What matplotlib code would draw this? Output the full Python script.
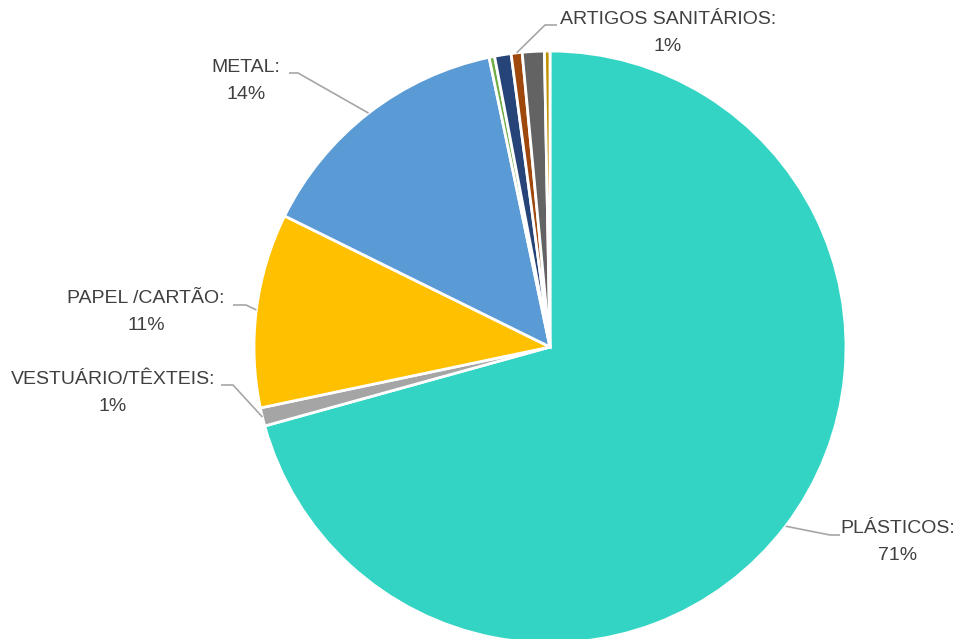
import numpy as np
import matplotlib.pyplot as plt

plt.rcParams['font.family'] = ['Liberation Sans', 'DejaVu Sans']

# composição dos resíduos (%), sentido horário a partir do topo
categorias = ["PLÁSTICOS", "VESTUÁRIO/TÊXTEIS", "PAPEL /CARTÃO", "METAL",
              "OUTRO 1", "OUTRO 2", "ARTIGOS SANITÁRIOS", "OUTRO 3", "OUTRO 4"]
percentagens = [70.7, 1.0, 10.6, 14.4, 0.3, 0.9, 0.6, 1.2, 0.3]
cores = ["#33D4C4", "#A5A5A5", "#FFC000", "#5B9BD5", "#70AD47",
         "#264478", "#9E480E", "#636363", "#BF9000"]

# só estas fatias levam rótulo
rotuladas = ["PLÁSTICOS", "VESTUÁRIO/TÊXTEIS", "PAPEL /CARTÃO", "METAL", "ARTIGOS SANITÁRIOS"]

W, H = 958, 639
CX, CY, R = 550, 347, 296


def px(x, y):
    # pixel da figura -> coordenadas do eixo (raio da pizza = 1)
    return (x - CX) / R, (CY - y) / R


# posição do texto e cotovelo/fim da linha de chamada (em pixels)
layout = {
    "PLÁSTICOS":          dict(texto=(898, 542), cotovelo=(830, 535), fim=(840, 535)),
    "VESTUÁRIO/TÊXTEIS":  dict(texto=(113, 393), cotovelo=(233, 385), fim=(221, 385)),
    "PAPEL /CARTÃO":      dict(texto=(146, 312), cotovelo=(246, 305), fim=(233, 305)),
    "METAL":              dict(texto=(246, 81), cotovelo=(298, 73), fim=(289, 73)),
    "ARTIGOS SANITÁRIOS": dict(texto=(668, 33), cotovelo=(545, 25), fim=(557, 25)),
}

fig = plt.figure(figsize=(W / 100, H / 100), dpi=100)
ax = fig.add_axes([0, 0, 1, 1])
ax.axis('off')

wedges, _ = ax.pie(percentagens, colors=cores, startangle=90, counterclock=False,
                   radius=1, center=(0, 0),
                   wedgeprops=dict(edgecolor='white', linewidth=2))
ax.set_aspect('equal')
ax.set_xlim(px(0, 0)[0], px(W, 0)[0])
ax.set_ylim(px(0, H)[1], px(0, 0)[1])

for w, nome, pct in zip(wedges, categorias, percentagens):
    if nome not in rotuladas:
        continue
    lay = layout[nome]
    ang = np.deg2rad((w.theta1 + w.theta2) / 2)
    borda = (np.cos(ang), np.sin(ang))
    cot = px(*lay["cotovelo"])
    fim = px(*lay["fim"])
    ax.plot([borda[0], cot[0], fim[0]], [borda[1], cot[1], fim[1]],
            color="#A6A6A6", lw=1.2, solid_capstyle='butt')
    tx, ty = px(*lay["texto"])
    ax.text(tx, ty, f"{nome}:\n{round(pct):.0f}%", ha='center', va='center',
            fontsize=14, color="#404040", linespacing=1.75)

fig.savefig("out.png", dpi=100, facecolor='white')
